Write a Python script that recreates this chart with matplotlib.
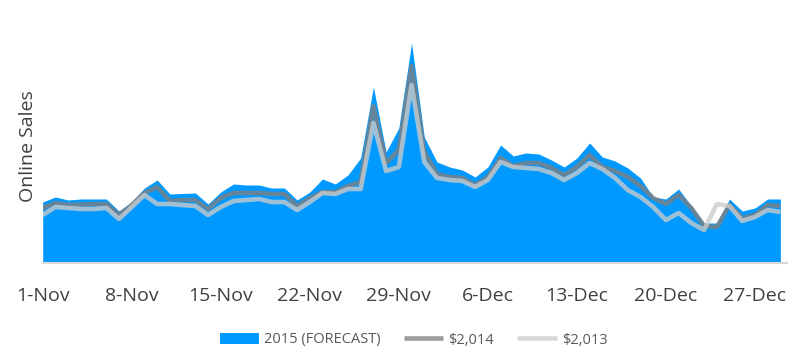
import matplotlib
matplotlib.use("Agg")
import matplotlib.pyplot as plt
import numpy as np
import pandas as pd

plt.rcParams['font.family'] = ['Open Sans', 'DejaVu Sans']

# daily online sales, 1-Nov .. 29-Dec (relative units)
dates = pd.date_range("2015-11-01", "2015-12-29", freq="D")
sales_2015 = [61, 66, 63, 64, 64, 64, 52, 61, 75, 83, 69, 69.5, 70, 59, 71, 79, 78, 78, 75, 75,
              63, 71, 84, 79, 88, 105, 176, 111, 135, 220, 126, 101, 96, 93, 86, 96, 118, 107, 110, 109,
              103, 96, 105, 120, 106, 102, 95, 85, 66, 64, 74, 57, 40, 40, 64, 52, 55, 64, 64]
sales_2014 = [55, 60, 58, 58.5, 59, 59, 48, 58, 70, 76, 62, 63, 63, 54, 65, 70, 70, 70, 69, 69,
              57, 65, 71, 71, 77, 81, 157, 100, 113, 197, 111, 89, 86, 85, 78, 86, 105, 97, 100, 100,
              95, 88, 96, 108, 96, 92, 86, 77, 65, 59, 68, 55, 37, 36, 58, 45, 48, 58, 57]
sales_2013 = [48, 56, 55, 54, 54, 55, 44, 56, 68, 59, 59, 58, 57, 48, 56, 62, 63, 64, 61, 61,
              53, 61, 70, 69, 74, 74, 140, 92, 96, 178, 101, 85, 83, 82, 76, 83, 101, 96, 95, 94,
              90, 83, 90, 100, 94, 85, 73, 66, 56, 43, 50, 40, 33, 59, 57, 42, 46, 53, 51]

labels = ["2015 (FORECAST)", "$2,014", "$2,013"]
tick_every = 7

x = np.arange(len(dates))

fig = plt.figure(figsize=(8, 3.63), dpi=100)
ax = fig.add_axes([42.7 / 800, 1 - 263 / 363, (787 - 42.7) / 800, (263 - 30) / 363])

ax.fill_between(x, 0, sales_2015, color="#0099ff", lw=0, label=labels[0])
ax.plot(x, sales_2014, color="#808080", alpha=0.78, lw=3.3, solid_joinstyle="round",
        solid_capstyle="butt", label=labels[1])
ax.plot(x, sales_2013, color="#cccccc", alpha=0.78, lw=3.3, solid_joinstyle="round",
        solid_capstyle="butt", label=labels[2])

ax.set_xlim(0, 58.52)
ax.set_ylim(0, 233)

ticks = x[::tick_every]
ax.set_xticks(ticks)
ax.set_xticklabels([f"{d.day}-{d.strftime('%b')}" for d in dates[::tick_every]],
                   fontsize=14, color="#404040")
ax.tick_params(axis="x", length=0, pad=17)
ax.set_yticks([])

for s in ["top", "right", "left"]:
    ax.spines[s].set_visible(False)
ax.spines["bottom"].set_color("#d9d9d9")
ax.spines["bottom"].set_linewidth(1.5)

ax.set_ylabel("Online Sales", fontsize=14, color="#404040", labelpad=4)

leg = fig.legend(loc="center", bbox_to_anchor=(0.517, 1 - 340 / 363), ncol=3, frameon=False,
                 fontsize=10.5, handlelength=2.7, handletextpad=0.35, columnspacing=1.6)
for t in leg.get_texts():
    t.set_color("#595959")

fig.savefig("out.png", dpi=100)
